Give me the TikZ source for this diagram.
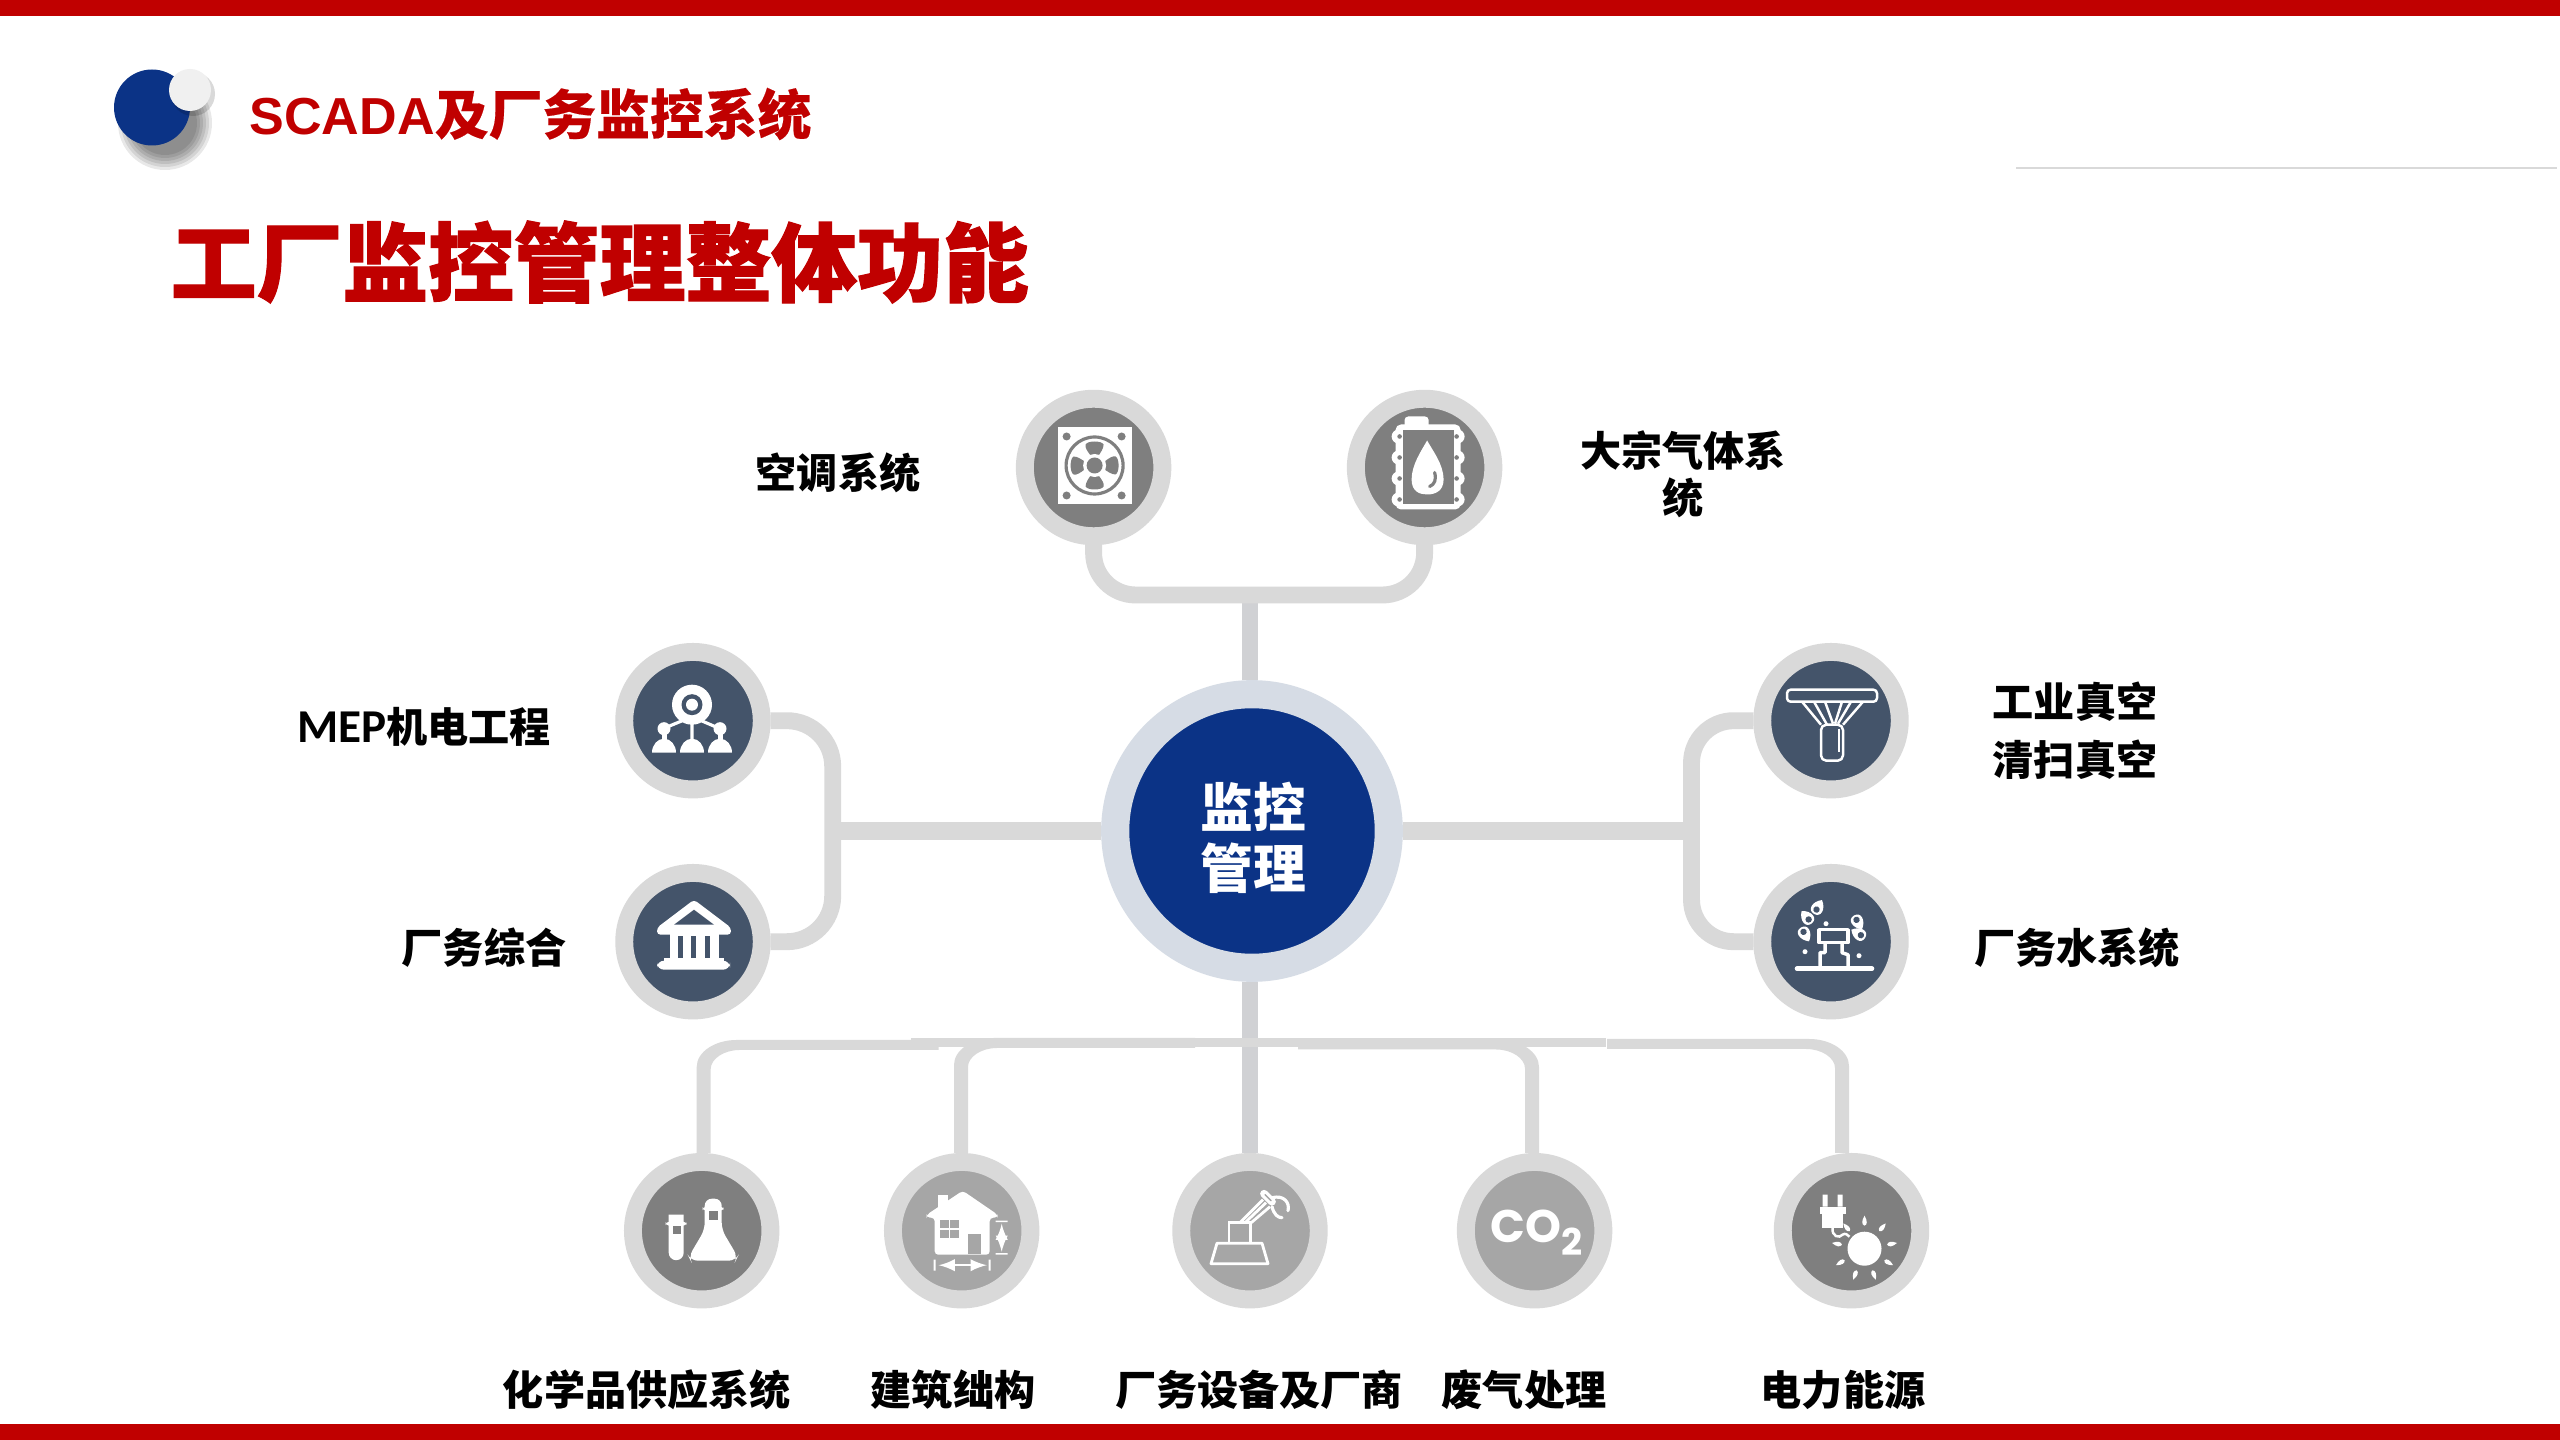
\documentclass[tikz,border=0pt]{standalone}
\usepackage{fontspec}
\setmainfont{Liberation Sans}
\newfontfamily\cjk{Noto Sans CJK SC}
\newfontfamily\cjkheavy[BoldFeatures={FakeBold=1.4}]{Noto Sans CJK SC}
\newfontfamily\cjksub[BoldFeatures={FakeBold=0.3}]{Noto Sans CJK SC}
\newfontfamily\latinsub{Liberation Sans}
\newfontfamily\carlito{Carlito}
\newfontfamily\cofont{Poppins}
\usetikzlibrary{calc}
\definecolor{brandred}{HTML}{C00000}
\definecolor{navy}{HTML}{0B3386}
\definecolor{ringgray}{HTML}{D9D9D9}
\definecolor{slate}{HTML}{44546A}
\definecolor{midgray}{HTML}{7F7F7F}
\definecolor{lightgray}{HTML}{A6A6A6}
\definecolor{hubring}{HTML}{D6DCE5}
\definecolor{trunkgray}{HTML}{D0D1D4}
\tikzset{
  iconnode/.style={circle,draw=ringgray,line width=5.1pt,minimum size=39.1pt,inner sep=0pt,fill=#1},
  hubnode/.style={circle,draw=hubring,fill=navy,line width=8pt,minimum size=77.8pt,inner sep=0pt},
  hubtext/.style={inner sep=0pt,text=white,align=center,font=\cjk\bfseries\fontsize{15}{17.4}\selectfont},
  lab/.style={inner sep=0pt,align=center,text=black,font=\cjk\bfseries\fontsize{11.7}{13.4}\selectfont},
  link/.style={draw=ringgray,line width=4.8pt},
  trunk/.style={draw=trunkgray,line width=4.3pt},
  ico/.style={fill=white,draw=none},
  icoline/.style={draw=white,line width=0.7pt,fill=none,line join=round},
}
% stem going up from #1, bar towards #2 (+1/-1); #3 rise, #4 bar end, #5 bar height
\newcommand{\busarm}[5]{
  \fill[ringgray] (#1) ++({-7*#2},0) -- ++(0,{-(#3-27)})
    .. controls +(0,-15) and +({-22*#2},0) .. ++({40*#2},-27)
    -- ++({(#4-33)*#2},0) -- ++(0,#5) -- ++({-(#4-36)*#2},0)
    .. controls +({-16*#2},0) and +(0,-10) .. ++({-29*#2},19)
    -- ++(0,{#3-#5-19}) -- cycle;
}
% small drop, #1 position, #2 angle, #3 background
\newcommand{\splash}[3]{
  \begin{scope}[shift={#1},rotate=#2]
    \fill[white] (0,-10) .. controls (8,-4) and (8,6) .. (0,6) .. controls (-8,6) and (-8,-4) .. (0,-10);
    \fill[#3] (0,1) circle[radius=3.2];
  \end{scope}
}
\begin{document}
\begin{tikzpicture}[x=0.01cm,y=-0.01cm]
  \useasboundingbox (0,0) rectangle (2560,1440);
  \fill[white] (0,0) rectangle (2560,1440);

  %bande e titoli
  \fill[brandred] (0,0) rectangle (2560,16);
  \fill[brandred] (0,1424) rectangle (2560,1440);
  \draw[ringgray,line width=0.5pt] (2016,168)--(2557,168);
  \foreach \rad in {47,44,41,38,35,32}{
    \fill[black,opacity=0.09] (165,123) circle[radius=\rad];
  }
  \fill[navy] (152,107.5) circle[radius=38];
  \fill[black,opacity=0.15] (193,94) circle[radius=22];
  \fill[black!6] (190,90) circle[radius=21];
  \node[anchor=west,inner sep=0pt,text=brandred] (subtitle) at (249,114)
    {{\fontsize{14.8}{18}\selectfont\latinsub\bfseries SCADA}{\fontsize{15.3}{18}\selectfont\cjksub\bfseries 及厂务监控系统}};
  \node[anchor=west,inner sep=0pt,text=brandred] (maintitle) at (170,262)
    {\fontsize{24.4}{28}\selectfont\cjkheavy\bfseries 工厂监控管理整体功能};

  %nodi
  \node[hubnode] (hub) at (1252,831) {};
  \node[hubtext] (hublabel) at (1253,838) {监控\\管理};
  \node[iconnode=midgray] (fan) at (1093.6,467.5) {};
  \node[iconnode=midgray] (tank) at (1424.6,467.5) {};
  \node[iconnode=slate] (mep) at (693,720.7) {};
  \node[iconnode=slate] (bank) at (693,941.7) {};
  \node[iconnode=slate] (vacuum) at (1831,720.7) {};
  \node[iconnode=slate] (water) at (1831,941.7) {};
  \node[iconnode=midgray] (chem) at (701.7,1230.7) {};
  \node[iconnode=lightgray] (house) at (961.7,1230.7) {};
  \node[iconnode=lightgray] (robot) at (1250,1230.7) {};
  \node[iconnode=lightgray] (gas) at (1534.6,1230.7) {};
  \node[iconnode=midgray] (power) at (1851.5,1230.7) {};

  %connessioni
  \coordinate (topbus) at (1250,595);
  \coordinate (leftbus) at (832.7,831);
  \coordinate (rightbus) at (1691.5,831);
  \draw[trunk] (topbus) -- (topbus |- hub.north);
  \draw[link,rounded corners=12pt] (fan.south) |- (topbus) -| (tank.south);
  \draw[link,rounded corners=13pt] (mep.east) -| (leftbus) |- (bank.east);
  \draw[link,rounded corners=12pt] (vacuum.west) -| (rightbus) |- (water.west);
  \draw[link,line width=5pt] (hub.west) -- (leftbus);
  \draw[link,line width=5pt] (hub.east) -- (rightbus);
  \draw[trunk] (robot.north) -- (robot.north |- hub.south);
  \coordinate (armA) at ($(chem.north)+(2,0)$);
  \coordinate (armB) at ($(house.north)+(-0.7,0)$);
  \coordinate (armC) at ($(gas.north)+(-2.6,0)$);
  \coordinate (armD) at ($(power.north)+(-9.5,0)$);
  \fill[ringgray] (911,1038.3) rectangle (1606,1046.7);
  \busarm{armA}{1}{113}{235}{10}
  \busarm{armB}{1}{115}{234}{10}
  \busarm{armC}{-1}{113}{234}{9.5}
  \busarm{armD}{-1}{114}{235}{10}

  %ventola
  \begin{scope}[shift={(fan)}]
    \fill[ico] (-36,-40) rectangle (38,37);
    \foreach \hx/\hy in {-27/-31,28/-31,-27/28,28/28}{
      \fill[midgray] (\hx,\hy) circle[radius=4];
    }
    \begin{scope}[shift={(1,-2)}]
      \draw[midgray,line width=0.9pt] (0,0) circle[radius=28.5];
      \foreach \ang in {0,90,180,270}{
        \fill[midgray,rotate=\ang] (-4,-10) .. controls (-7,-14) and (-10,-18) .. (-9,-21)
          .. controls (-7,-25) and (7,-25) .. (9,-21) .. controls (9,-17) and (6,-13) .. (4,-10) -- cycle;
      }
      \fill[white] (0,0) circle[radius=11.5];
      \fill[midgray] (0,0) circle[radius=8];
    \end{scope}
  \end{scope}

  %fusto
  \begin{scope}[shift={(tank)}]
    \fill[ico,rounded corners=1pt] (-20,-51) rectangle (4,-38);
    \fill[ico,rounded corners=1.5pt] (-29,-43) rectangle (36,42);
    \foreach \ry in {-31,-10,11,32}{
      \fill[white] (-26,\ry) circle[radius=7];
      \fill[white] (33,\ry) circle[radius=7];
    }
    \fill[midgray] (-22,-37) rectangle (29,37);
    \foreach \ry in {-31,-10,11,32}{
      \fill[midgray] (-25,\ry) circle[radius=2.3];
      \fill[midgray] (32,\ry) circle[radius=2.3];
    }
    \fill[white] (2.5,-27) .. controls (8,-17) and (19,-3) .. (19,12)
      .. controls (19,24) and (10,27) .. (2.5,27) .. controls (-5,27) and (-13,24) .. (-13,12)
      .. controls (-13,-3) and (-3,-17) .. (2.5,-27);
    \draw[midgray,line width=0.9pt,line cap=round] (10,5) .. controls (12,12) and (10,17) .. (5,19);
  \end{scope}

  %rete
  \begin{scope}[shift={(mep)}]
    \draw[white,line width=0.9pt] (-1,-5) -- (-1,22) (-30,8) -- (-1,-4) -- (27,8);
    \fill[white] (-1,-16) circle[radius=20];
    \fill[slate] (-1,-16) circle[radius=10.5];
    \fill[white] (-1,-16) circle[radius=6];
    \foreach \px in {-29,27}{
      \fill[white] (\px,8) circle[radius=6.5];
      \fill[white] (\px-2.5,12) rectangle (\px+2.5,20);
    }
    \foreach \px in {-29,-1,27}{
      \fill[white] (\px-12,32) arc[start angle=180,end angle=360,x radius=12,y radius=14] -- cycle;
    }
  \end{scope}

  %edificio
  \begin{scope}[shift={(bank)}]
    \fill[white,rounded corners=1pt] (1,-42) -- (38,-14) -- (38,-7) -- (-36,-7) -- (-36,-14) -- cycle;
    \fill[slate] (1,-32) -- (21,-17) -- (-19,-17) -- cycle;
    \fill[white] (-23,-8) rectangle (26,18);
    \foreach \sx in {-15,-2,12}{
      \fill[slate] (\sx,-6) rectangle (\sx+5,16);
    }
    \fill[white,rounded corners=2pt] (-36,19) rectangle (37,28);
    \fill[white] (-29,16) rectangle (31,22);
  \end{scope}

  %aspirazione
  \begin{scope}[shift={(vacuum)}]
    \draw[icoline,rounded corners=1pt] (-44,-31) rectangle (46,-19);
    \draw[icoline] (-29,-19)--(-10,4) (-17,-19)--(-4,4) (-6,-19)--(2,3)
      (11,-19)--(4,3) (20,-19)--(7,3) (32,-19)--(12,4);
    \draw[icoline,rounded corners=1.5pt] (-10,4) rectangle (12,40);
    \draw[icoline] (8,8)--(8,31);
  \end{scope}

  %irrigatore
  \begin{scope}[shift={(water)}]
    \draw[white,line width=1.3pt,line cap=round] (-34,27)--(41,27);
    \draw[white,line width=1pt,line join=round] (-12,-12) rectangle (17,1);
    \draw[white,line width=1pt,line join=round] (-6,1) -- (-6,11) -- (-11,11) -- (-11,27)
      (11,1) -- (11,11) -- (17,13) -- (17,27);
    \splash{(-14,-33)}{-30}{slate}
    \splash{(-23,-23)}{40}{slate}
    \splash{(-27,-9)}{-150}{slate}
    \splash{(26,-21)}{-150}{slate}
    \splash{(29,-7)}{60}{slate}
    \foreach \dx/\dy in {-5/-18,-26/10,28/14}{
      \fill[white] (\dx,\dy) circle[radius=2.5];
    }
  \end{scope}

  %provette
  \begin{scope}[shift={(chem)}]
    \fill[ico] (-33,-16) -- (-18,-16) -- (-18,22) arc[start angle=0,end angle=180,radius=7.5] -- cycle;
    \fill[ico,rounded corners=1pt] (-36,-9) rectangle (-15,-5);
    \fill[midgray] (-29,-5) rectangle (-21,3);
    \fill[ico,rounded corners=2pt] (3,-32) -- (20,-32) -- (20,-1) -- (36,26) -- (34,30) -- (-11,30) -- (-13,26) -- (3,-1) -- cycle;
    \fill[ico,rounded corners=1pt] (1,-24) rectangle (22,-20);
    \fill[midgray] (7,-20) rectangle (16,-11);
  \end{scope}

  %casa
  \begin{scope}[shift={(house)}]
    \fill[ico] (-24,-36) rectangle (-14,-14);
    \fill[ico,rounded corners=1pt] (1,-40) -- (36,-16) -- (36,-13) -- (28,-13) -- (28,24) -- (-27,24) -- (-27,-13) -- (-35,-13) -- (-35,-16) -- cycle;
    \foreach \wx/\wy in {-22/-11,-12/-11,-22/-1,-12/-1}{
      \fill[lightgray] (\wx,\wy) rectangle (\wx+9,\wy+8);
    }
    \fill[lightgray] (6,3) rectangle (19,23);
    \fill[white] (34,-10) rectangle (46,-8.5) (34,22.5) rectangle (46,24);
    \draw[white,line width=0.6pt,latex-latex] (40,-7) -- (40,21);
    \fill[white] (-28,29) rectangle (-26,40) (27,29) rectangle (29,40);
    \draw[white,line width=0.6pt,latex-latex] (-23,34.5) -- (25,34.5);
  \end{scope}

  %robot
  \begin{scope}[shift={(robot)}]
    \draw[white,line width=0.8pt,line join=round] (-33,12.5) -- (12,12.5) -- (18,33) -- (-39,33) -- cycle;
    \draw[white,line width=0.8pt] (-21,12.5) -- (-21,-8) -- (0.5,-8) -- (0.5,12.5);
    \draw[white,line width=0.8pt,line join=round] (-10,-8) -- (13,-31) (0,-7) -- (20,-24) (-5,-8) -- (16,-28);
    \draw[white,line width=2.2pt,line cap=round] (14,-37) -- (22,-29);
    \draw[white,line width=0.9pt,line cap=round] (22,-33) .. controls (34,-36) and (40,-28) .. (38,-20);
    \draw[white,line width=0.9pt,line cap=round] (22,-24) .. controls (24,-16) and (28,-13) .. (32,-13);
    \draw[lightgray,line width=0.4pt,line cap=round] (15,-36) -- (21,-30);
  \end{scope}

  %CO2
  \node[text=white,inner sep=0pt,anchor=center] (cotext) at ($(gas)+(2,2)$)
    {\cofont\bfseries\fontsize{13}{13}\selectfont CO\raisebox{-0.3em}{\fontsize{10.5}{10.5}\selectfont 2}};

  %spina e sole
  \begin{scope}[shift={(power)}]
    \fill[ico] (-29,-36) rectangle (-24,-24) (-14,-36) rectangle (-9,-24);
    \fill[ico] (-32,-24) rectangle (-6,-17);
    \fill[ico] (-30,-17) rectangle (-9,-3);
    \draw[white,line width=0.7pt] (-19,-3) .. controls (-20,6) and (-12,8) .. (-9,4) .. controls (-6,2) and (-4,4) .. (-2,6);
    \fill[white] (13,18) circle[radius=17];
    \foreach \ang in {-90,-50,...,230}{
      \begin{scope}[shift={(13,18)},rotate=\ang+90]
        \fill[white] (0,-33) .. controls (3,-28) and (3,-24) .. (0,-23) .. controls (-3,-24) and (-3,-28) .. (0,-33);
      \end{scope}
    }
  \end{scope}

  %etichette
  \node[lab] (labfan) at (838,473) {空调系统};
  \node[lab] (labtank) at (1683,474) {大宗气体系\\统};
  \node[lab] (labmep) at (424,727) {{\carlito\bfseries\fontsize{13.4}{13.4}\selectfont MEP}机电工程};
  \node[lab] (labbank) at (484,948) {厂务综合};
  \node[lab] (labvacuum) at (2075,731) {工业真空\\[3.1pt]清扫真空};
  \node[lab] (labwater) at (2077,948) {厂务水系统};
  \node[lab] (labchem) at (647,1390) {化学品供应系统};
  \node[lab] (labhouse) at (953,1390) {建筑绌构};
  \node[lab] (labrobot) at (1259,1390) {厂务设备及厂商};
  \node[lab] (labgas) at (1524,1390) {废气处理};
  \node[lab] (labpower) at (1843,1390) {电力能源};
\end{tikzpicture}
\end{document}
